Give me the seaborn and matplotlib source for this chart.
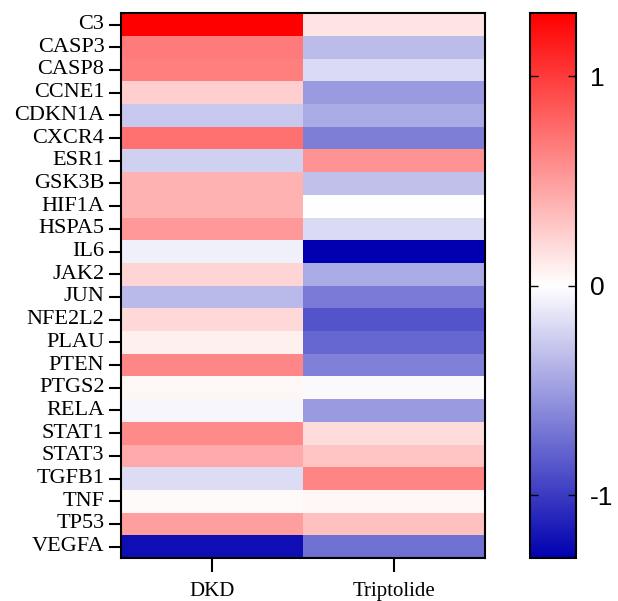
import numpy as np
import pandas as pd
import seaborn as sns
import matplotlib.pyplot as plt
from matplotlib.colors import LinearSegmentedColormap

genes = ["C3", "CASP3", "CASP8", "CCNE1", "CDKN1A", "CXCR4", "ESR1", "GSK3B",
         "HIF1A", "HSPA5", "IL6", "JAK2", "JUN", "NFE2L2", "PLAU", "PTEN",
         "PTGS2", "RELA", "STAT1", "STAT3", "TGFB1", "TNF", "TP53", "VEGFA"]
groups = ["DKD", "Triptolide"]

dkd = [1.30, 0.68, 0.65, 0.25, -0.28, 0.73, -0.24, 0.39,
       0.39, 0.52, -0.08, 0.22, -0.35, 0.20, 0.08, 0.61,
       0.05, -0.05, 0.59, 0.43, -0.18, 0.03, 0.49, -1.22]
triptolide = [0.14, -0.34, -0.19, -0.51, -0.43, -0.66, 0.55, -0.32,
              0.01, -0.19, -1.30, -0.43, -0.68, -0.87, -0.78, -0.64,
              -0.03, -0.51, 0.18, 0.30, 0.62, 0.05, 0.32, -0.73]

df = pd.DataFrame({"DKD": dkd, "Triptolide": triptolide}, index=genes)

cmap = LinearSegmentedColormap.from_list("bwr2", ["#0000B0", "#FFFFFF", "#FF0000"])

fig = plt.figure(figsize=(6.18, 6.01), dpi=100)
ax = fig.add_axes([0.196, 0.0715, 0.589, 0.9065])
cax = fig.add_axes([0.858, 0.0715, 0.074, 0.9065])

sns.heatmap(df, ax=ax, cbar_ax=cax, cmap=cmap, vmin=-1.3, vmax=1.3,
            cbar_kws={"ticks": [-1, 0, 1]})

# axes frame
for s in ax.spines.values():
    s.set_visible(True)
    s.set_linewidth(1.5)
    s.set_color("black")

ax.set_yticklabels(genes, rotation=0, fontsize=16, family="Liberation Serif")
ax.set_xticklabels(groups, fontsize=15, family="Liberation Serif")
ax.tick_params(axis="y", length=9, width=1.5, pad=3)
ax.tick_params(axis="x", length=10, width=1.5, pad=7)
ax.set_xlabel("")
ax.set_ylabel("")

# colorbar
cb = ax.collections[0].colorbar
cb.outline.set_linewidth(1.5)
cb.outline.set_edgecolor("black")
cax.tick_params(direction="in", length=6, width=1, left=True, right=True,
                labelsize=19, pad=10)
cax.set_yticklabels(["-1", "0", "1"], family="Liberation Sans")

fig.savefig("out.png", dpi=100)
